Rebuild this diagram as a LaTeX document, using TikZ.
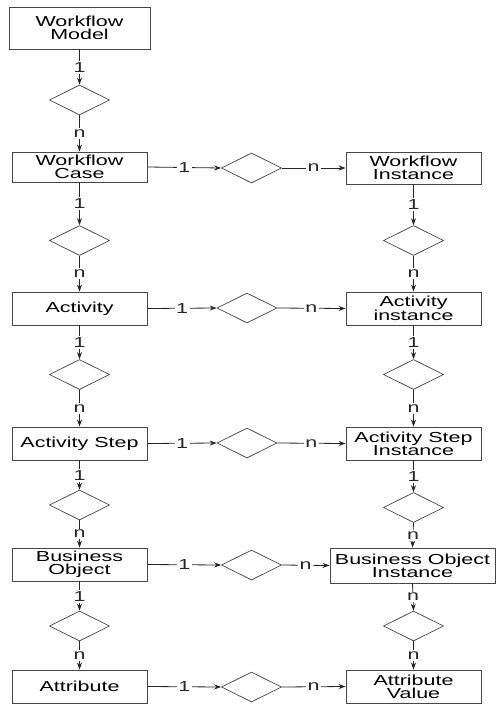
\documentclass[tikz,border=0pt]{standalone}
\usepackage{fontspec}
\setmainfont[FakeStretch=1.48]{Liberation Sans}
\usetikzlibrary{arrows.meta,shapes.geometric}
\definecolor{boxgray}{RGB}{70,70,70}

\begin{document}
\begin{tikzpicture}[x=1pt,y=-1pt,>={Stealth[length=7pt,width=5pt]},
  every node/.style={font=\fontsize{14.5}{13}\selectfont},
  entity/.style={draw=boxgray,line width=0.9pt,minimum width=135pt,minimum height=33pt,inner sep=0pt,align=center},
  rel/.style={draw=boxgray,line width=0.7pt,diamond,minimum width=60pt,minimum height=30pt,inner sep=0pt},
  link/.style={->,line width=0.8pt,black!85},
  card/.style={fill=white,inner sep=1.5pt}]
 \useasboundingbox (0,0) rectangle (497,704);
 % entities
 \node[entity,minimum width=141pt,minimum height=42pt] (wmodel) at (79.5,28) {Workflow\\Model};
 \node[entity,minimum height=30pt] (wcase) at (79.5,167) {Workflow\\Case};
 \node[entity,minimum height=32pt] (winst) at (413.5,168) {Workflow\\Instance};
 \node[entity] (act) at (79.5,308.5) {Activity};
 \node[entity] (actinst) at (413.5,308.5) {Activity\\instance};
 \node[entity] (step) at (79.5,443.5) {Activity Step};
 \node[entity] (stepinst) at (413.5,443.5) {Activity Step\\Instance};
 \node[entity] (bobj) at (79.5,564.5) {Business\\Object};
 \node[entity,minimum width=165pt,minimum height=35pt] (bobjinst) at (412.5,565.5) {Business Object\\Instance};
 \node[entity] (attr) at (79.5,686.5) {Attribute};
 \node[entity] (attrval) at (413.5,686.5) {Attribute\\Value};
 % relationships
 \node[rel] (rmc) at (79.5,100) {};
 \node[rel] (rca) at (79.5,240.5) {};
 \node[rel] (ras) at (79.5,374.5) {};
 \node[rel] (rsb) at (79.5,505) {};
 \node[rel] (rba) at (79.5,626) {};
 \node[rel] (rii) at (413.5,240.5) {};
 \node[rel] (rai) at (413.5,374.5) {};
 \node[rel] (rsi) at (413.5,507.5) {};
 \node[rel] (rbi) at (413.5,626) {};
 \node[rel] (rwc) at (251.5,168) {};
 \node[rel] (rac) at (247,308) {};
 \node[rel] (rst) at (247,443) {};
 \node[rel] (rbo) at (251.5,565) {};
 \node[rel] (rat) at (251.5,687) {};
 % connectors
 \foreach \a/\r/\b/\p in {wmodel/rmc/wcase/1, wcase/rca/act/1, act/ras/step/1,
   step/rsb/bobj/1, bobj/rba/attr/1, winst/rii/actinst/1, actinst/rai/stepinst/1,
   stepinst/rsi/bobjinst/1, bobjinst/rbi/attrval/n}{
  \draw[link] (\a.south) -- node[card] {\p} (\r.north);
  \draw[link] (\r.south) -- node[card] {n} (\b.north);
 }
 \foreach \a/\r/\b in {wcase/rwc/winst, act/rac/actinst, step/rst/stepinst,
   bobj/rbo/bobjinst, attr/rat/attrval}{
  \draw[link] (\a.east) -- node[card] {1} (\r.west);
  \draw[link] (\r.east) -- node[card] {n} (\b.west);
 }
\end{tikzpicture}
\end{document}
